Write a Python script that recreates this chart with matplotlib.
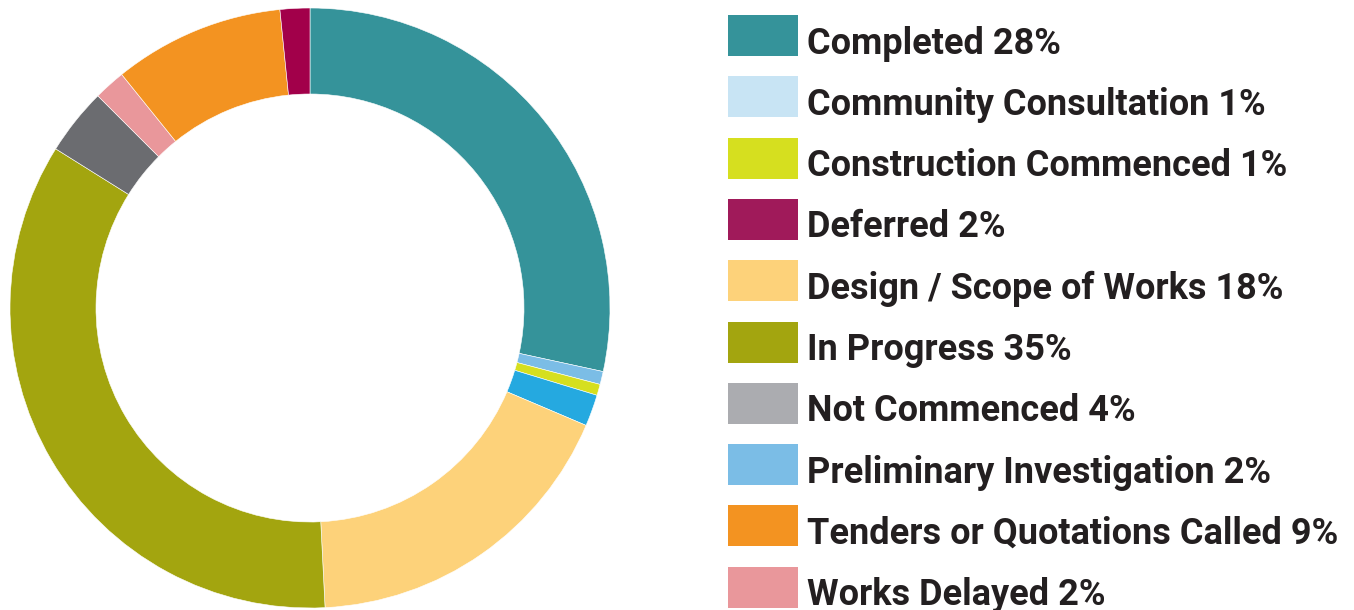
import matplotlib
matplotlib.use("Agg")
import matplotlib.pyplot as plt
from matplotlib.patches import Rectangle

wedge_names = ['Completed', 'Community Consultation', 'Construction Commenced',
               'Preliminary Investigation', 'Design / Scope of Works', 'In Progress',
               'Not Commenced', 'Works Delayed', 'Tenders or Quotations Called', 'Deferred']
wedge_share = [28.4, 0.7, 0.6, 1.7, 17.8, 34.7, 3.6, 1.7, 9.2, 1.6]
wedge_colors = ['#35939a', '#7bbde6', '#d6df1f', '#25a9e0', '#fdd27a',
                '#a3a50f', '#6b6c70', '#e9979b', '#f39321', '#a2004a']

# legend as printed next to the chart
legend_labels = ['Completed 28%', 'Community Consultation 1%', 'Construction Commenced 1%',
                 'Deferred 2%', 'Design / Scope of Works 18%', 'In Progress 35%',
                 'Not Commenced 4%', 'Preliminary Investigation 2%',
                 'Tenders or Quotations Called 9%', 'Works Delayed 2%']
legend_colors = ['#35939a', '#c8e4f4', '#d6df1f', '#a01a5a', '#fdd27a',
                 '#a3a50f', '#abacb0', '#7bbde6', '#f39321', '#e9979b']

W, H = 1354, 610
fig = plt.figure(figsize=(W / 100, H / 100), dpi=100)
ax = fig.add_axes([0, 0, 1, 1])

# y axis is inverted, so counterclock=True runs clockwise on screen
ax.pie(wedge_share, colors=wedge_colors, startangle=-90, counterclock=True,
       center=(310, 308), radius=300, frame=True,
       wedgeprops=dict(width=86, edgecolor='white', linewidth=0.4))
ax.set_xlim(0, W)
ax.set_ylim(H, 0)
ax.set_aspect('equal')
ax.axis('off')

# legend swatches and labels
for i, (lab, col) in enumerate(zip(legend_labels, legend_colors)):
    top = 15 + i * 61.3
    ax.add_patch(Rectangle((728, top), 70, 41, facecolor=col, edgecolor='none'))
    ax.text(807, top + 38.5, lab, fontsize=26, fontweight='bold', color='#231f20',
            family=['Roboto', 'DejaVu Sans'], va='baseline', ha='left')

fig.savefig('out.png', dpi=100)
